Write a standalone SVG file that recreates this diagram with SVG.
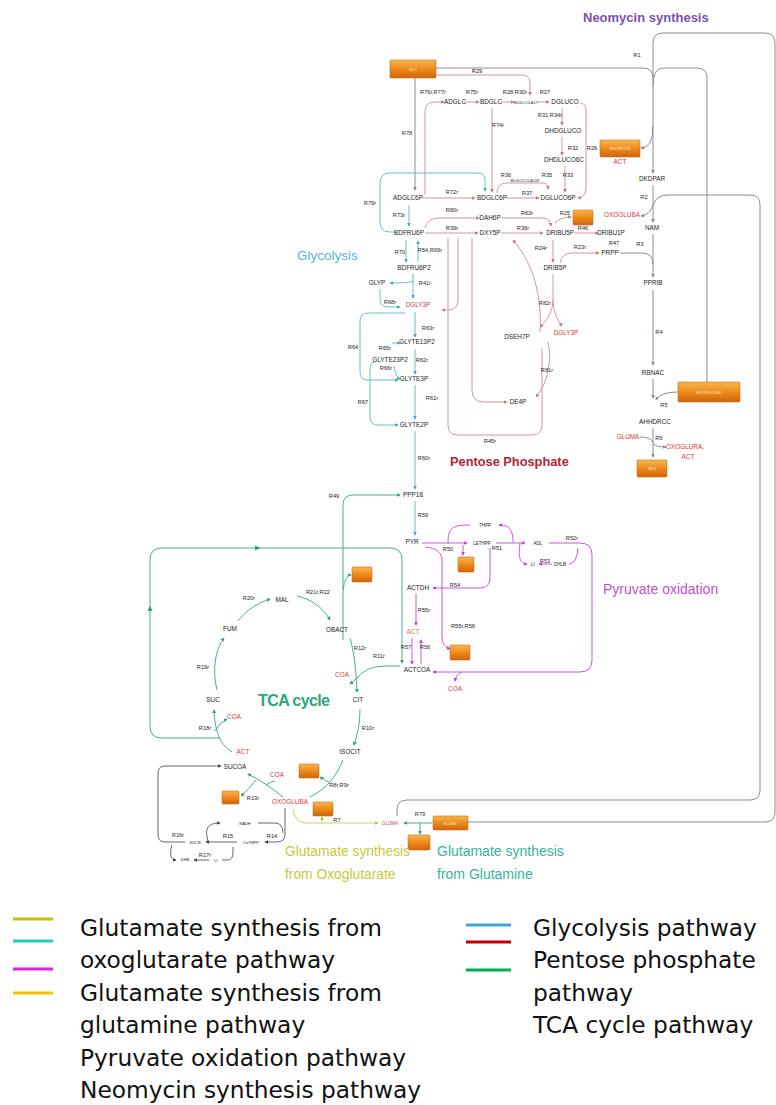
<svg xmlns="http://www.w3.org/2000/svg" width="776" height="1105" viewBox="0 0 776 1105">
<defs>
<linearGradient id="og" x1="0" y1="0" x2="0" y2="1"><stop offset="0" stop-color="#f8b650"/><stop offset="0.5" stop-color="#ee8a1c"/><stop offset="1" stop-color="#d0650a"/></linearGradient>
<marker id="mg" viewBox="0 0 6 6" refX="5" refY="3" markerWidth="4" markerHeight="4" orient="auto-start-reverse"><path d="M0,0L6,3L0,6z" fill="#8c8c98"/></marker>
<marker id="mp" viewBox="0 0 6 6" refX="5" refY="3" markerWidth="4" markerHeight="4" orient="auto-start-reverse"><path d="M0,0L6,3L0,6z" fill="#c97880"/></marker>
<marker id="mt" viewBox="0 0 6 6" refX="5" refY="3" markerWidth="4" markerHeight="4" orient="auto-start-reverse"><path d="M0,0L6,3L0,6z" fill="#4aaabd"/></marker>
<marker id="mc" viewBox="0 0 6 6" refX="5" refY="3" markerWidth="4" markerHeight="4" orient="auto-start-reverse"><path d="M0,0L6,3L0,6z" fill="#2f9e80"/></marker>
<marker id="mm" viewBox="0 0 6 6" refX="5" refY="3" markerWidth="4" markerHeight="4" orient="auto-start-reverse"><path d="M0,0L6,3L0,6z" fill="#c040d0"/></marker>
<marker id="my" viewBox="0 0 6 6" refX="5" refY="3" markerWidth="4" markerHeight="4" orient="auto-start-reverse"><path d="M0,0L6,3L0,6z" fill="#b8c040"/></marker>
<marker id="mk" viewBox="0 0 6 6" refX="5" refY="3" markerWidth="4" markerHeight="4" orient="auto-start-reverse"><path d="M0,0L6,3L0,6z" fill="#444"/></marker>
</defs>
<style>
.r{font-family:"Liberation Sans",Arial,sans-serif;font-size:5.7px;fill:#262626;text-anchor:middle}
.n{font-family:"Liberation Sans",Arial,sans-serif;font-size:6.4px;fill:#1c1c1c;text-anchor:middle}
.rd{fill:#d93838}
.box{fill:url(#og);stroke:#c8701a;stroke-width:0.6}
.bt{font-family:"Liberation Sans",Arial,sans-serif;font-size:3.8px;fill:#fde9c8;text-anchor:middle}
.g{fill:none;stroke:#8c8c98;stroke-width:1}
.p{fill:none;stroke:#d7969c;stroke-width:1}
.t{fill:none;stroke:#66bfcd;stroke-width:1}
.c{fill:none;stroke:#45b094;stroke-width:1}
.m{fill:none;stroke:#c95ad6;stroke-width:1}
.y{fill:none;stroke:#cad45a;stroke-width:1}
.k{fill:none;stroke:#555;stroke-width:0.9}
.ti{font-family:"Liberation Sans",Arial,sans-serif}
.lg{font-family:"DejaVu Sans",Verdana,sans-serif;font-size:23.3px;fill:#111}
</style>
<rect width="776" height="1105" fill="#fff"/>

<g id="connectors">
<!-- neomycin -->
<path class="g" d="M436,68 H643 Q653,68 653,78 V173" marker-end="url(#mg)"/>
<path class="g" d="M653,78 V43 Q653,33 663,33 H765 Q775,33 775,43 V812 Q775,822 765,822 H468"/>
<path class="g" d="M653,86 Q653,68 663,68 H697 Q707,68 707,78 V382"/>
<path class="g" d="M653,126 Q653,148 641,148" marker-end="url(#mg)"/>
<path class="g" d="M653,185 V222" marker-end="url(#mg)"/>
<path class="g" d="M641,216 C650,215 652,207 655,201 Q659,195 668,195 H750 Q760,195 760,205 V790 Q760,800 750,800 H407 Q397,800 397,810 V816" marker-start="url(#mg)"/>
<path class="g" d="M653,234 V277" marker-end="url(#mg)"/>
<path class="g" d="M620,253 H642 Q653,253 653,264"/>
<path class="g" d="M653,290 V365" marker-end="url(#mg)"/>
<path class="g" d="M653,379 V398" marker-end="url(#mg)"/>
<path class="g" d="M678,392 Q660,392 656,400" marker-end="url(#mg)"/>
<path class="g" d="M653,428 V457" marker-end="url(#mg)"/>
<path class="g" d="M640,437 Q650,437 653,442"/>
<path class="g" d="M653,443 Q655,447 666,447" marker-end="url(#mg)"/>
<path class="g" d="M415,78 V190" marker-end="url(#mg)"/>
<!-- pentose -->
<path class="p" d="M436,75 H522 Q530,75 530,83 V95" marker-end="url(#mp)"/>
<path class="p" d="M425,195 V112 Q425,102 435,102 H444" marker-end="url(#mp)"/>
<path class="p" d="M464,102 H479" marker-end="url(#mp)"/>
<path class="p" d="M501,102 H514" marker-end="url(#mp)"/>
<path class="p" d="M538,102 H549" marker-end="url(#mp)"/>
<path class="p" d="M562,108 V125" marker-end="url(#mp)"/>
<path class="p" d="M562,137 V155" marker-end="url(#mp)"/>
<path class="p" d="M565,166 V192" marker-end="url(#mp)"/>
<path class="p" d="M580,103 Q586,103 586,111 V188 Q586,197 578,198" marker-end="url(#mp)"/>
<path class="p" d="M492,108 V192" marker-end="url(#mp)"/>
<path class="p" d="M497,193 Q497,183 507,183 H543 Q548,183 548,189" marker-end="url(#mp)"/>
<path class="p" d="M506,198 H539" marker-end="url(#mp)"/>
<path class="p" d="M422,198 H475" marker-end="url(#mp)"/>
<path class="p" d="M425,228 Q428,218 438,218 H479" marker-end="url(#mp)"/>
<path class="p" d="M501,218 H543 Q550,218 551,226" marker-end="url(#mp)"/>
<path class="p" d="M425,233 H478" marker-end="url(#mp)"/>
<path class="p" d="M501,233 H543" marker-end="url(#mp)"/>
<path class="p" d="M555,223 Q560,217 571,217" marker-end="url(#mp)"/>
<path class="p" d="M574,233 H598" marker-end="url(#mp)"/>
<path class="p" d="M553,240 V262" marker-end="url(#mp)"/>
<path class="p" d="M560,263 Q562,253 572,253 H599" marker-end="url(#mp)"/>
<path class="p" d="M448,238 V425 Q448,435 458,435 H532 Q542,435 542,425 V348"/>
<path class="p" d="M458,238 V300 Q458,310 448,310 H442" marker-end="url(#mp)"/>
<path class="p" d="M472,238 V390 Q472,402 484,402 H507" marker-end="url(#mp)"/>
<path class="p" d="M553,274 V300 Q553,315 540,327" marker-end="url(#mp)"/>
<path class="p" d="M553,300 Q553,315 562,326" marker-end="url(#mp)"/>
<path class="p" d="M540,332 C542,300 535,265 513,240" marker-end="url(#mp)"/>
<path class="p" d="M548,342 C552,360 548,383 536,397" marker-end="url(#mp)"/>
<!-- glycolysis -->
<path class="t" d="M396,232 H390 Q380,232 380,222 V183 Q380,173 390,173 H478 Q485,173 485,180 V191" marker-end="url(#mt)"/>
<path class="t" d="M409,205 V226" marker-end="url(#mt)"/>
<path class="t" d="M406,240 V262" marker-end="url(#mt)"/>
<path class="t" d="M418,262 V241" marker-end="url(#mt)"/>
<path class="t" d="M413,274 V298" marker-end="url(#mt)"/>
<path class="t" d="M413,281 Q410,283 390,283" marker-end="url(#mt)"/>
<path class="t" d="M380,289 V300 Q380,307 390,307 H400" marker-end="url(#mt)"/>
<path class="t" d="M415,312 V337" marker-end="url(#mt)"/>
<path class="t" d="M392,343 H400" marker-end="url(#mt)"/>
<path class="t" d="M415,349 V374" marker-end="url(#mt)"/>
<path class="t" d="M394,366 Q396,378 400,379" marker-end="url(#mt)"/>
<path class="t" d="M405,313 H368 Q360,313 360,321 V372 Q360,380 368,380 H398" marker-end="url(#mt)"/>
<path class="t" d="M375,362 Q370,362 370,370 V417 Q370,425 378,425 H398" marker-end="url(#mt)"/>
<path class="t" d="M415,385 V419" marker-end="url(#mt)"/>
<path class="t" d="M415,431 V489" marker-end="url(#mt)"/>
<path class="t" d="M415,501 V535" marker-end="url(#mt)"/>
<!-- TCA -->
<path class="c" d="M343,640 V505 Q343,495 353,495 H400" marker-end="url(#mc)"/>
<path class="c" d="M343,590 Q345,575 351,575" marker-end="url(#mc)"/>
<path class="c" d="M220,738 H162 Q150,738 150,726 V560 Q150,548 162,548 H390 Q402,548 402,560 V663" marker-end="url(#mc)"/>
<path d="M255,545.5 L260.5,548 L255,550.5z M147.5,611 L150,605.5 L152.5,611z" fill="#2f9e80"/>
<path class="c" d="M400,666 H385 Q366,666 356,679 L350,684" marker-end="url(#mc)"/>
<path class="c" d="M350,638 C354,652 356,668 357,692" marker-end="url(#mc)"/>
<path class="c" d="M360,709 C360,722 358,733 354,745" marker-end="url(#mc)"/>
<path class="c" d="M343,760 C337,775 328,788 310,797"/>
<path class="c" d="M330,783 L320,777" marker-end="url(#mc)"/>
<path class="c" d="M283,797 C272,788 260,780 248,774" marker-end="url(#mc)"/>
<path class="c" d="M256,780 Q248,790 241,796" marker-end="url(#mc)"/>
<path class="c" d="M275,781 Q270,782 266,785"/>
<path class="c" d="M217,690 C212,670 215,650 224,638" marker-end="url(#mc)"/>
<path class="c" d="M238,621 C246,610 258,603 270,599" marker-end="url(#mc)"/>
<path class="c" d="M297,596 C310,599 322,606 330,620" marker-end="url(#mc)"/>
<path class="c" d="M232,752 C222,746 215,735 214,710" marker-end="url(#mc)"/>
<path class="c" d="M215,731 Q219,723 227,719" marker-end="url(#mc)"/>
<!-- pyruvate -->
<path class="m" d="M422,543 H467" marker-end="url(#mm)"/>
<path class="m" d="M463,545 V555" marker-end="url(#mm)"/>
<path class="m" d="M448,543 C448,528 452,525 470,525"/>
<path class="m" d="M513,543 C513,529 509,525 499,525" marker-end="url(#mm)"/>
<path class="m" d="M496,543 H525" marker-end="url(#mm)"/>
<path class="m" d="M549,543 H580 Q592,543 592,555 V660 Q592,672 580,672 H433" marker-end="url(#mm)"/>
<path class="m" d="M520,543 C518,558 520,564 527,564" marker-end="url(#mm)"/>
<path class="m" d="M552,564 H539" marker-end="url(#mm)"/>
<path class="m" d="M569,564 Q577,563 578,548"/>
<path class="m" d="M490,548 V578 Q490,588 480,588 H433" marker-end="url(#mm)"/>
<path class="m" d="M425,547 Q440,548 442,558 V637 Q442,646 450,649" marker-end="url(#mm)"/>
<path class="m" d="M416,594 V625" marker-end="url(#mm)"/>
<path class="m" d="M412,638 V664" marker-end="url(#mm)"/>
<path class="m" d="M421,664 V640" marker-end="url(#mm)"/>
<path class="m" d="M462,672 Q456,674 455,681" marker-end="url(#mm)"/>
<!-- glutamate -->
<path class="y" d="M293,809 Q295,823 306,823 H378" marker-end="url(#my)"/>
<path class="y" d="M322,823 V817" marker-end="url(#my)"/>
<path class="c" d="M432,823 H404" marker-end="url(#mc)"/>
<path class="c" d="M420,823 V834" marker-end="url(#mc)"/>
<!-- bottom loop -->
<path class="k" d="M185,842 H165 Q158,842 158,835 V773 Q158,766 165,766 H221" marker-end="url(#mk)"/>
<path class="k" d="M285,808 V834 Q285,842 277,842 H265" marker-end="url(#mk)"/>
<path class="k" d="M237,842 H206" marker-end="url(#mk)"/>
<path class="k" d="M208,841 C205,830 206,823 220,823" marker-end="url(#mk)"/>
<path class="k" d="M258,823 H275 Q283,823 283,833"/>
<path class="k" d="M172,845 C169,855 171,860 176,860" marker-end="url(#mk)"/>
<path class="k" d="M209,860 H194" marker-end="url(#mk)"/>
<path class="k" d="M222,860 H228 Q233,860 233,852 V847"/>
</g>

<g id="reaction-labels">
<text class="r" x="477" y="73">R29</text>
<text class="r" x="637" y="57">R1</text>
<text class="r" x="592" y="150">R26</text>
<text class="r" x="644" y="199">R2</text>
<text class="r" x="640" y="246">R3</text>
<text class="r" x="659" y="334">R4</text>
<text class="r" x="664" y="407">R5</text>
<text class="r" x="659" y="440">R6</text>
<text class="r" x="433" y="94">R76r,R77r</text>
<text class="r" x="472" y="94">R75r</text>
<text class="r" x="515" y="94">R28,R30r</text>
<text class="r" x="545" y="94">R27</text>
<text class="r" x="407" y="135">R78</text>
<text class="r" x="498" y="127">R74r</text>
<text class="r" x="550" y="117">R31,R34r</text>
<text class="r" x="573" y="150">R32</text>
<text class="r" x="506" y="177">R36</text>
<text class="r" x="547" y="177">R35</text>
<text class="r" x="568" y="177">R33</text>
<text class="r" x="452" y="194">R72r</text>
<text class="r" x="527" y="195">R37</text>
<text class="r" x="452" y="212">R80r</text>
<text class="r" x="527" y="215">R63r</text>
<text class="r" x="565" y="215">R25</text>
<text class="r" x="452" y="230">R39r</text>
<text class="r" x="523" y="230">R38r</text>
<text class="r" x="583" y="230">R46</text>
<text class="r" x="541" y="250">R24r</text>
<text class="r" x="580" y="249">R23r</text>
<text class="r" x="614" y="245">R47</text>
<text class="r" x="545" y="305">R82r</text>
<text class="r" x="547" y="372">R81r</text>
<text class="r" x="490" y="443">R45r</text>
<text class="r" x="370" y="205">R79r</text>
<text class="r" x="399" y="217">R73r</text>
<text class="r" x="400" y="254">R70</text>
<text class="r" x="430" y="252">R54,R69r</text>
<text class="r" x="425" y="285">R41r</text>
<text class="r" x="390" y="304">R68r</text>
<text class="r" x="428" y="330">R63r</text>
<text class="r" x="385" y="350">R65r</text>
<text class="r" x="422" y="362">R62r</text>
<text class="r" x="386" y="370">R66r</text>
<text class="r" x="353" y="349">R64</text>
<text class="r" x="432" y="400">R61r</text>
<text class="r" x="363" y="404">R67</text>
<text class="r" x="424" y="460">R60r</text>
<text class="r" x="423" y="517">R59</text>
<text class="r" x="334" y="498">R49</text>
<text class="r" x="448" y="551">R50</text>
<text class="r" x="497" y="550">R51</text>
<text class="r" x="572" y="540">R52r</text>
<text class="r" x="545" y="563">R53</text>
<text class="r" x="455" y="587">R54</text>
<text class="r" x="424" y="612">R55r</text>
<text class="r" x="463" y="628">R55r,R58</text>
<text class="r" x="406" y="649">R57</text>
<text class="r" x="425" y="649">R56</text>
<text class="r" x="249" y="600">R20r</text>
<text class="r" x="318" y="594">R21r,R22</text>
<text class="r" x="203" y="669">R19r</text>
<text class="r" x="360" y="650">R12r</text>
<text class="r" x="379" y="658">R11r</text>
<text class="r" x="368" y="730">R10r</text>
<text class="r" x="205" y="730">R18r</text>
<text class="r" x="253" y="800">R13r</text>
<text class="r" x="339" y="787">R8r,R9r</text>
<text class="r" x="337" y="822">R7</text>
<text class="r" x="420" y="816">R79</text>
<text class="r" x="178" y="837">R16r</text>
<text class="r" x="228" y="838">R15</text>
<text class="r" x="272" y="838">R14</text>
<text class="r" x="205" y="857">R17r</text>
</g>

<g id="n-glc"><rect class="box" x="390" y="60" width="46" height="18" rx="1"/><text class="bt" x="413" y="70.5">GLC</text></g>
<g id="n-neobox"><rect class="box" x="600" y="140" width="40" height="17" rx="1"/><text class="bt" x="620" y="150">NEOMYCIN</text></g>
<g id="n-act1"><text class="n rd" x="620" y="164">ACT</text></g>
<g id="n-dkdpar"><text class="n" x="652" y="181">DKDPAR</text></g>
<g id="n-oxo1"><text class="n rd" x="622" y="217">OXOGLUBA</text></g>
<g id="n-nam"><text class="n" x="652" y="230">NAM</text></g>
<g id="n-pprib"><text class="n" x="653" y="285">PPRIB</text></g>
<g id="n-rbnac"><text class="n" x="653" y="375">RBNAC</text></g>
<g id="n-neopglcnac"><rect class="box" x="678" y="382" width="62" height="20" rx="1"/><text class="bt" x="709" y="393.5">NEOPGLCNAC</text></g>
<g id="n-ahhdrcc"><text class="n" x="655" y="424">AHHDRCC</text></g>
<g id="n-gluma1"><text class="n rd" x="628" y="439">GLUMA</text></g>
<g id="n-oxoact"><text class="n rd" x="685" y="449">OXOGLURA,</text><text class="n rd" x="688" y="459">ACT</text></g>
<g id="n-neo"><rect class="box" x="637" y="460" width="30" height="17" rx="1"/><text class="bt" x="652" y="470">NEO</text></g>

<g id="n-adglc"><text class="n" x="455" y="104">ADGLC</text></g>
<g id="n-bdglc"><text class="n" x="491" y="104">BDGLC</text></g>
<g id="n-bdglcolact"><text class="n" x="526" y="103.5" style="font-size:3.6px">BDGLCOLACT</text></g>
<g id="n-dgluco"><text class="n" x="565" y="104">DGLUCO</text></g>
<g id="n-dhdgluco"><text class="n" x="563" y="133">DHDGLUCO</text></g>
<g id="n-dhdluco6c"><text class="n" x="564" y="162">DHDLUCO6C</text></g>
<g id="n-adglc6p"><text class="n" x="408" y="200">ADGLC6P</text></g>
<g id="n-bdglc6p"><text class="n" x="492" y="200">BDGLC6P</text></g>
<g id="n-bdglcolac6p"><text class="n" x="525" y="182" style="font-size:3.6px">BDGLUCOLAC6P</text></g>
<g id="n-dgluco6p"><text class="n" x="558" y="200">DGLUCO6P</text></g>
<g id="n-dah6p"><text class="n" x="490" y="220">DAH6P</text></g>
<g id="n-box25"><rect class="box" x="573" y="210" width="20" height="15" rx="1"/></g>
<g id="n-bdfru6p"><text class="n" x="409" y="235">BDFRU6P</text></g>
<g id="n-dxy5p"><text class="n" x="490" y="235">DXY5P</text></g>
<g id="n-dribu5p"><text class="n" x="560" y="235">DRIBU5P</text></g>
<g id="n-dribu1p"><text class="n" x="611" y="235">DRIBU1P</text></g>
<g id="n-drib5p"><text class="n" x="555" y="270">DRIB5P</text></g>
<g id="n-prpp"><text class="n" x="610" y="255">PRPP</text></g>
<g id="n-dseh7p"><text class="n" x="517" y="339">DSEH7P</text></g>
<g id="n-dgly3p2"><text class="n rd" x="566" y="335">DGLY3P</text></g>
<g id="n-de4p"><text class="n" x="518" y="404">DE4P</text></g>

<g id="n-bdfru6p2"><text class="n" x="414" y="270">BDFRU6P2</text></g>
<g id="n-glyp"><text class="n" x="377" y="285">GLYP</text></g>
<g id="n-dgly3p"><text class="n rd" x="418" y="307">DGLY3P</text></g>
<g id="n-glyte13p2"><text class="n" x="417" y="344">GLYTE13P2</text></g>
<g id="n-glyte23p2"><text class="n" x="390" y="362">GLYTE23P2</text></g>
<g id="n-glyte3p"><text class="n" x="414" y="381">GLYTE3P</text></g>
<g id="n-glyte2p"><text class="n" x="414" y="427">GLYTE2P</text></g>
<g id="n-ppp18"><text class="n" x="413" y="497">PPP18</text></g>
<g id="n-pyr"><text class="n" x="412" y="544">PYR</text></g>

<g id="n-lethpp"><text class="n" x="482" y="545" style="font-size:4.5px">LETHPP</text></g>
<g id="n-thpp"><text class="n" x="485" y="527" style="font-size:4.5px">THPP</text></g>
<g id="n-box50"><rect class="box" x="458" y="557" width="16" height="15" rx="1"/></g>
<g id="n-adl"><text class="n" x="538" y="545" style="font-size:4.5px">ADL</text></g>
<g id="n-li1"><text class="n" x="533" y="566" style="font-size:4.5px">LI</text></g>
<g id="n-dhlb"><text class="n" x="560" y="566" style="font-size:4.5px">DHLB</text></g>
<g id="n-actdh"><text class="n" x="418" y="590">ACTDH</text></g>
<g id="n-act2"><text class="n" x="413" y="634" style="fill:#e07a4a">ACT</text></g>
<g id="n-box58"><rect class="box" x="450" y="645" width="20" height="15" rx="1"/></g>
<g id="n-actcoa"><text class="n" x="417" y="672">ACTCOA</text></g>
<g id="n-coa1"><text class="n rd" x="455" y="691">COA</text></g>

<g id="n-boxtca"><rect class="box" x="352" y="567" width="20" height="15" rx="1"/></g>
<g id="n-mal"><text class="n" x="282" y="602">MAL</text></g>
<g id="n-fum"><text class="n" x="230" y="631">FUM</text></g>
<g id="n-obact"><text class="n" x="337" y="632">OBACT</text></g>
<g id="n-suc"><text class="n" x="213" y="702">SUC</text></g>
<g id="n-cit"><text class="n" x="358" y="702">CIT</text></g>
<g id="n-coa2"><text class="n rd" x="342" y="677">COA</text></g>
<g id="n-isocit"><text class="n" x="350" y="754">ISOCIT</text></g>
<g id="n-coa3"><text class="n rd" x="234" y="719">COA</text></g>
<g id="n-act3"><text class="n rd" x="243" y="754">ACT</text></g>
<g id="n-sucoa"><text class="n" x="235" y="769">SUCOA</text></g>
<g id="n-coa4"><text class="n rd" x="277" y="777">COA</text></g>
<g id="n-box8"><rect class="box" x="299" y="764" width="20" height="14" rx="1"/></g>
<g id="n-box13"><rect class="box" x="222" y="791" width="17" height="13" rx="1"/></g>
<g id="n-oxo2"><text class="n rd" x="290" y="804">OXOGLUBA</text></g>
<g id="n-box7"><rect class="box" x="313" y="802" width="20" height="14" rx="1"/></g>
<g id="n-gluma2"><text class="n rd" x="390" y="825" style="font-size:4.5px">GLUMA</text></g>
<g id="n-glnbox"><rect class="box" x="433" y="816" width="35" height="14" rx="1"/><text class="bt" x="450" y="824.5">GLUMN</text></g>
<g id="n-box79"><rect class="box" x="408" y="835" width="22" height="15" rx="1"/></g>
<g id="n-nadh"><text class="n" x="245" y="825" style="font-size:4px">NADH</text></g>
<g id="n-sucb"><text class="n" x="195" y="844" style="font-size:4px">SUCB</text></g>
<g id="n-oxthpp"><text class="n" x="251" y="844" style="font-size:4px">OxTHPP</text></g>
<g id="n-dhb"><text class="n" x="185" y="861" style="font-size:4px">DHB</text></g>
<g id="n-li2"><text class="n" x="216" y="862" style="font-size:4px">LI</text></g>

<g id="titles">
<text class="ti" x="583" y="22" style="font-size:13px;font-weight:bold;fill:#7a52a8">Neomycin synthesis</text>
<text class="ti" x="297" y="260" style="font-size:13.5px;fill:#5cb3cc">Glycolysis</text>
<text class="ti" x="450" y="466" style="font-size:12.8px;font-weight:bold;fill:#b02434">Pentose Phosphate</text>
<text class="ti" x="603" y="594" style="font-size:14px;fill:#c24fd0">Pyruvate oxidation</text>
<text class="ti" x="258" y="706" style="font-size:16px;font-weight:bold;fill:#2ea57a" textLength="72">TCA cycle</text>
<text class="ti" x="285" y="856" style="font-size:13.8px;fill:#c8c83a">Glutamate synthesis</text>
<text class="ti" x="285" y="879" style="font-size:13.8px;fill:#c8c83a">from Oxoglutarate</text>
<text class="ti" x="437" y="856" style="font-size:14px;fill:#35b49e">Glutamate synthesis</text>
<text class="ti" x="437" y="879" style="font-size:14px;fill:#35b49e">from Glutamine</text>
</g>

<g id="legend">
<line x1="13" y1="919" x2="53" y2="919" stroke="#c8c000" stroke-width="3"/>
<line x1="13" y1="941" x2="53" y2="941" stroke="#22d0b0" stroke-width="3"/>
<line x1="13" y1="969" x2="53" y2="969" stroke="#e020e0" stroke-width="3"/>
<line x1="13" y1="993" x2="53" y2="993" stroke="#f2c000" stroke-width="3"/>
<line x1="466" y1="925" x2="511" y2="925" stroke="#40a8d0" stroke-width="3"/>
<line x1="466" y1="942" x2="511" y2="942" stroke="#c00000" stroke-width="3"/>
<line x1="466" y1="970" x2="511" y2="970" stroke="#00b050" stroke-width="3"/>
<text class="lg" x="80" y="936">Glutamate synthesis from</text>
<text class="lg" x="80" y="968">oxoglutarate pathway</text>
<text class="lg" x="80" y="1001">Glutamate synthesis from</text>
<text class="lg" x="80" y="1033">glutamine pathway</text>
<text class="lg" x="80" y="1066">Pyruvate oxidation pathway</text>
<text class="lg" x="80" y="1098">Neomycin synthesis pathway</text>
<text class="lg" x="533" y="936">Glycolysis pathway</text>
<text class="lg" x="533" y="968">Pentose phosphate</text>
<text class="lg" x="533" y="1001">pathway</text>
<text class="lg" x="533" y="1033">TCA cycle pathway</text>
</g>
</svg>
